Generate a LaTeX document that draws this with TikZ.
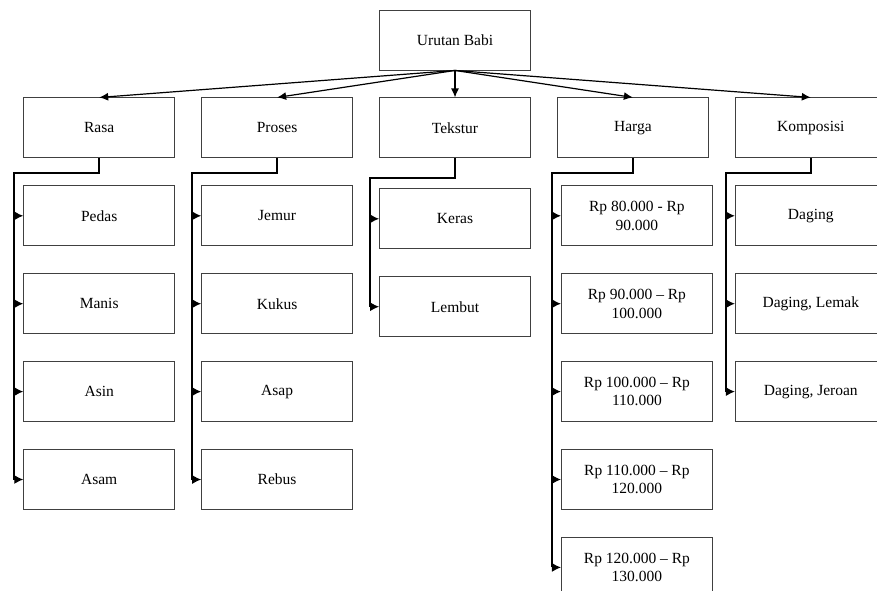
\documentclass[tikz,border=0pt]{standalone}
\usepackage{fontspec}
\setmainfont{Liberation Serif}
\usetikzlibrary{arrows.meta,positioning}
\tikzset{
  catbox/.style={draw=black!75, line width=0.9pt,
        minimum width=151pt, minimum height=60pt, align=center,
        font=\fontsize{15.5}{18.5}\selectfont, inner sep=2pt},
  branch/.style={-{Latex[length=9pt,width=8pt]}, line width=1.2pt},
  spine/.style={line width=1.8pt},
  tip/.style={-{Latex[length=9pt,width=9pt]}, line width=1.2pt}
}

\begin{document}
\begin{tikzpicture}[x=1pt, y=-1pt, node distance=27pt and 26pt]
\useasboundingbox (0,0) rectangle (877,590);
% top level
\node[catbox] (root) at (455,40) {Urutan Babi};
\node[catbox, below=of root] (tekstur) {Tekstur};
\node[catbox, left=of tekstur] (proses) {Proses};
\node[catbox, left=of proses] (rasa) {Rasa};
\node[catbox, right=of tekstur] (harga) {Harga};
\node[catbox, right=of harga] (komposisi) {Komposisi};

% Rasa
\node[catbox, below=of rasa] (pedas) {Pedas};
\node[catbox, below=of pedas] (manis) {Manis};
\node[catbox, below=of manis] (asin) {Asin};
\node[catbox, below=of asin] (asam) {Asam};

% Proses
\node[catbox, below=of proses] (jemur) {Jemur};
\node[catbox, below=of jemur] (kukus) {Kukus};
\node[catbox, below=of kukus] (asap) {Asap};
\node[catbox, below=of asap] (rebus) {Rebus};

% Tekstur
\node[catbox, below=30pt of tekstur] (keras) {Keras};
\node[catbox, below=of keras] (lembut) {Lembut};

% Harga
\node[catbox, below=of harga, xshift=4pt] (hargaA) {Rp 80.000 - Rp\\90.000};
\node[catbox, below=of hargaA] (hargaB) {Rp 90.000 – Rp\\100.000};
\node[catbox, below=of hargaB] (hargaC) {Rp 100.000 – Rp\\110.000};
\node[catbox, below=of hargaC] (hargaD) {Rp 110.000 – Rp\\120.000};
\node[catbox, below=of hargaD] (hargaE) {Rp 120.000 – Rp\\130.000};

% Komposisi
\node[catbox, below=of komposisi] (daging) {Daging};
\node[catbox, below=of daging] (lemak) {Daging, Lemak};
\node[catbox, below=of lemak] (jeroan) {Daging, Jeroan};

\foreach \c in {rasa,proses,tekstur,harga,komposisi}
  \draw[branch] (root.south) -- (\c.north);

\draw[spine] (rasa.south) |- ([shift={(-9pt,12pt)}]pedas.north west) -- ([xshift=-9pt]asam.west);
\foreach \c in {pedas,manis,asin,asam}
  \draw[tip] ([xshift=-9pt]\c.west) -- (\c.west);

\draw[spine] (proses.south) |- ([shift={(-9pt,12pt)}]jemur.north west) -- ([xshift=-9pt]rebus.west);
\foreach \c in {jemur,kukus,asap,rebus}
  \draw[tip] ([xshift=-9pt]\c.west) -- (\c.west);

\draw[spine] (tekstur.south) |- ([shift={(-9pt,10pt)}]keras.north west) -- ([xshift=-9pt]lembut.west);
\foreach \c in {keras,lembut}
  \draw[tip] ([xshift=-9pt]\c.west) -- (\c.west);

\draw[spine] (harga.south) |- ([shift={(-9pt,12pt)}]hargaA.north west) -- ([xshift=-9pt]hargaE.west);
\foreach \c in {hargaA,hargaB,hargaC,hargaD,hargaE}
  \draw[tip] ([xshift=-9pt]\c.west) -- (\c.west);

\draw[spine] (komposisi.south) |- ([shift={(-9pt,12pt)}]daging.north west) -- ([xshift=-9pt]jeroan.west);
\foreach \c in {daging,lemak,jeroan}
  \draw[tip] ([xshift=-9pt]\c.west) -- (\c.west);
\end{tikzpicture}
\end{document}
